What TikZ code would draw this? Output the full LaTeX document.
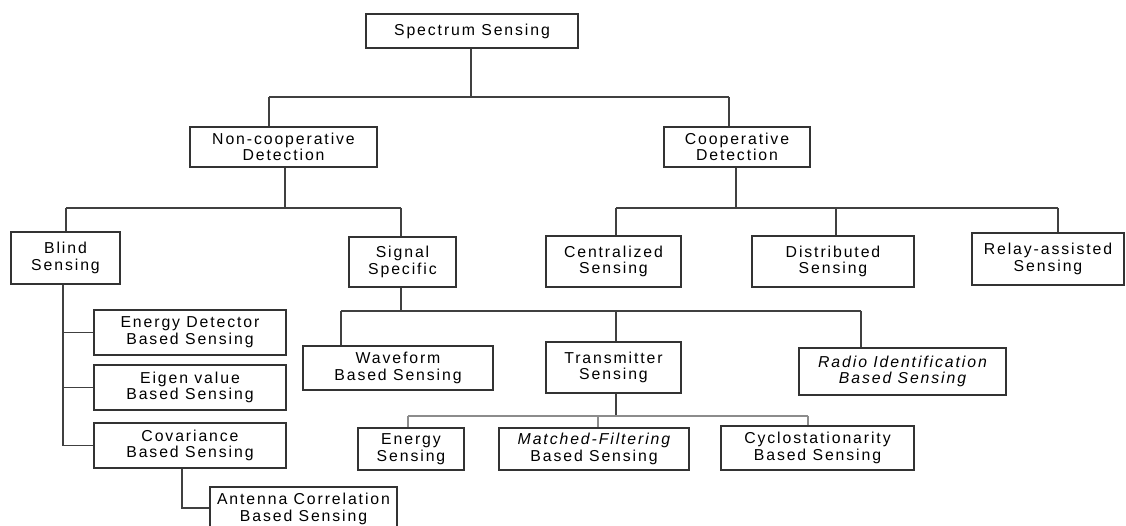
\documentclass[tikz,border=0pt]{standalone}
\usepackage{fontspec}
\setmainfont{Liberation Sans}[LetterSpace=12]
\usetikzlibrary{calc}
\newcommand{\sensingBox}[6]{%%
  %% #1 name, (#2,#3) upper left corner, (#4,#5) lower right corner, #6 text
  \pgfmathsetmacro{\boxWidth}{(#4-#2)*\pxUnit}
  \pgfmathsetmacro{\boxHeight}{(#5-#3)*\pxUnit}
  \node[boxStyle,minimum width=\boxWidth cm,minimum height=\boxHeight cm] (#1) at ({(#2+#4)/2},{(#3+#5)/2}) {#6};
}
\newcommand{\dropLine}[2]{%%
  %% From a bus point down to the top of a box.
  \draw[lineStyle] (#1) -- (#1 |- #2.north);
}
\begin{document}
\begin{tikzpicture}[%%
  x=0.02cm,y=-0.02cm,%%
  boxStyle/.style={draw=black!80,line width=0.8pt,inner sep=0pt,align=center,font=\fontsize{9}{9.5}\selectfont},%%
  lineStyle/.style={-,draw=black!75,line width=0.9pt},%%
  thinLineStyle/.style={-,draw=black!45,line width=0.6pt}%%
]
%%
%%
\pgfmathsetmacro{\pxUnit}{0.02}
\useasboundingbox (0,0) rectangle (1126,526);
%% The boxes.
\sensingBox{spectrum}{366}{14}{578}{48}{Spectrum Sensing}
\sensingBox{noncoop}{190}{127}{377}{167}{Non-cooperative\\Detection}
\sensingBox{coop}{664}{127}{810}{167}{Cooperative\\Detection}
\sensingBox{blind}{11}{232}{120}{284}{Blind\\Sensing}
\sensingBox{signal}{349}{237}{456}{287}{Signal\\Specific}
\sensingBox{central}{546}{236}{681}{287}{Centralized\\Sensing}
\sensingBox{distrib}{752}{236}{914}{287}{Distributed\\Sensing}
\sensingBox{relay}{972}{233}{1124}{285}{Relay-assisted\\Sensing}
\sensingBox{energyDet}{94}{310}{286}{355}{Energy Detector\\Based Sensing}
\sensingBox{eigen}{94}{365}{286}{410}{Eigen value\\Based Sensing}
\sensingBox{covar}{94}{423}{286}{468}{Covariance\\Based Sensing}
\sensingBox{antenna}{210}{487}{397}{531}{Antenna Correlation\\Based Sensing}
\sensingBox{waveform}{303}{346}{493}{390}{Waveform\\Based Sensing}
\sensingBox{transmit}{546}{342}{681}{393}{Transmitter\\Sensing}
\sensingBox{radio}{799}{348}{1006}{395}{\itshape Radio Identification\\\itshape Based Sensing}
\sensingBox{energySen}{358}{428}{464}{470}{Energy\\Sensing}
\sensingBox{matched}{499}{428}{689}{470}{\itshape Matched-Filtering\\Based Sensing}
\sensingBox{cyclo}{721}{426}{914}{470}{Cyclostationarity\\Based Sensing}
%% The bus points.
\coordinate (topMid) at (471,97);
\coordinate (topLeft) at (269,97);
\coordinate (topRight) at (729,97);
\coordinate (ncMid) at (285,208);
\coordinate (ncLeft) at (66,208);
\coordinate (ncRight) at (401,208);
\coordinate (cMid) at (736,208);
\coordinate (cLeft) at (616,208);
\coordinate (cCenter) at (836,208);
\coordinate (cRight) at (1058,208);
\coordinate (blindBus) at (63,300);
\coordinate (sigMid) at (401,311);
\coordinate (sigLeft) at (341,311);
\coordinate (sigCenter) at (616,311);
\coordinate (sigRight) at (861,311);
\coordinate (txMid) at (616,416);
\coordinate (txLeft) at (408,416);
\coordinate (txCenter) at (598,416);
\coordinate (txRight) at (808,416);
\coordinate (covDrop) at (182,508);
%%
%%
%% Spectrum Sensing to the two detections.
\draw[lineStyle] (spectrum.south -| topMid) -- (topMid);
\draw[lineStyle] (topLeft) -- (topRight);
\dropLine{topLeft}{noncoop}
\dropLine{topRight}{coop}
%% Non-cooperative detection.
\draw[lineStyle] (noncoop.south -| ncMid) -- (ncMid);
\draw[lineStyle] (ncLeft) -- (ncRight);
\dropLine{ncLeft}{blind}
\dropLine{ncRight}{signal}
%% Cooperative detection.
\draw[lineStyle] (coop.south -| cMid) -- (cMid);
\draw[lineStyle] (cLeft) -- (cRight);
\dropLine{cLeft}{central}
\dropLine{cCenter}{distrib}
\dropLine{cRight}{relay}
%% Blind sensing.
\draw[lineStyle] (blind.south -| blindBus) -- (blindBus |- covar.west) -- (covar.west);
\draw[lineStyle] (blindBus |- energyDet.west) -- (energyDet.west);
\draw[lineStyle] (blindBus |- eigen.west) -- (eigen.west);
\draw[lineStyle] (covar.south -| covDrop) -- (covDrop) -- (covDrop -| antenna.west);
%% Signal specific.
\draw[lineStyle] (signal.south -| sigMid) -- (sigMid);
\draw[lineStyle] (sigLeft) -- (sigRight);
\dropLine{sigLeft}{waveform}
\dropLine{sigCenter}{transmit}
\dropLine{sigRight}{radio}
%% Transmitter sensing.
\draw[lineStyle] (transmit.south -| txMid) -- (txMid);
\draw[thinLineStyle] (txLeft) -- (txRight);
\draw[thinLineStyle] (txLeft) -- (txLeft |- energySen.north);
\draw[thinLineStyle] (txCenter) -- (txCenter |- matched.north);
\draw[thinLineStyle] (txRight) -- (txRight |- cyclo.north);
\end{tikzpicture}
\end{document}
